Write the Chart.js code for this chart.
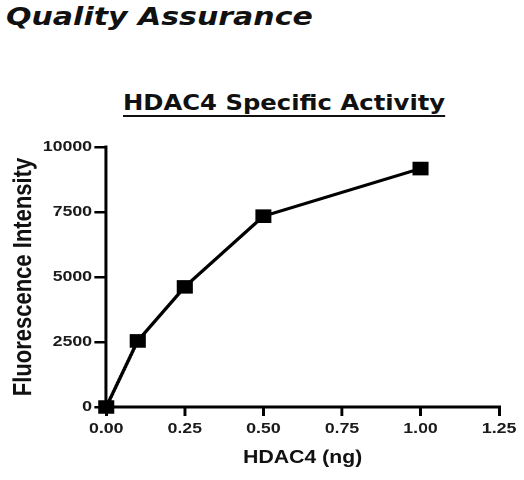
<!DOCTYPE html>
<html>
<head>
<meta charset="utf-8">
<script src="https://cdn.jsdelivr.net/npm/chart.js@4"></script>
<style>
    html, body { margin: 0; padding: 0; background: #fff; }
    body { width: 524px; height: 480px; position: relative; overflow: hidden; }
    .page-title {
        position: absolute; left: 6px; top: 4px;
        font: italic bold 25px/1 "DejaVu Sans", Verdana, sans-serif;
        color: #111; white-space: nowrap;
        transform: scaleX(1.2); transform-origin: 0 0;
    }
    .chart-title {
        position: absolute; left: 123px; top: 93px;
        font: bold 20.5px/1 "DejaVu Sans", Verdana, sans-serif;
        color: #111; white-space: nowrap;
        text-decoration: underline; text-decoration-thickness: 2px; text-underline-offset: 5px;
        transform: scaleX(1.185); transform-origin: 0 0;
    }
    #wrap {
        position: absolute; left: 0; top: 0; width: 444px; height: 480px;
        transform: scaleX(1.18); transform-origin: 0 0;
    }
</style>
</head>
<body>
<div class="page-title">Quality Assurance</div>
<div class="chart-title">HDAC4 Specific Activity</div>
<div id="wrap"><canvas id="chart" width="444" height="480"></canvas></div>
<script>
// values
const doseNg = [0, 0.1, 0.25, 0.5, 1.0];
const fluorescence = [0, 2540, 4620, 7340, 9170];
const xTicks = [0, 0.25, 0.5, 0.75, 1.0, 1.25];
const yTicks = [0, 2500, 5000, 7500, 10000];

document.addEventListener('DOMContentLoaded', () => {
    const fontFamily = "'Liberation Sans', Arial, sans-serif";
    const ctx = document.getElementById('chart').getContext('2d');

    new Chart(ctx, {
        type: 'scatter',
        data: {
            datasets: [{
                label: 'HDAC4',
                data: doseNg.map((x, i) => ({ x: x, y: fluorescence[i] })),
                showLine: true,
                borderColor: '#000',
                backgroundColor: '#000',
                borderWidth: 3,
                pointStyle: 'rect',
                pointRadius: 7.5,
                pointHoverRadius: 7.5,
                tension: 0,
                clip: false
            }]
        },
        options: {
            responsive: false,
            devicePixelRatio: 2,
            animation: false,
            layout: { padding: { top: 147, right: 21, left: 0, bottom: 0 } },
            plugins: {
                legend: { display: false },
                tooltip: { enabled: false }
            },
            scales: {
                x: {
                    type: 'linear',
                    min: xTicks[0],
                    max: xTicks[xTicks.length - 1],
                    afterFit: (scale) => { scale.height = 73; },
                    afterBuildTicks: (scale) => { scale.ticks = xTicks.map(v => ({ value: v })); },
                    border: { display: true, color: '#000', width: 3 },
                    grid: { drawOnChartArea: false, drawTicks: true, tickLength: 9, color: '#000', lineWidth: 2.5 },
                    ticks: {
                        color: '#1a1a1a',
                        padding: 4,
                        font: { family: fontFamily, size: 15, weight: 'bold' },
                        callback: (v) => Number(v).toFixed(2)
                    },
                    title: {
                        display: true,
                        text: 'HDAC4 (ng)',
                        color: '#111',
                        padding: { top: 0, bottom: 11 },
                        font: { family: fontFamily, size: 18, weight: 'bold' }
                    }
                },
                y: {
                    min: yTicks[0],
                    max: yTicks[yTicks.length - 1],
                    afterFit: (scale) => { scale.width = 90; },
                    afterBuildTicks: (scale) => { scale.ticks = yTicks.map(v => ({ value: v })); },
                    border: { display: true, color: '#000', width: 2.6 },
                    grid: { drawOnChartArea: false, drawTicks: true, tickLength: 10, color: '#000', lineWidth: 2.5 },
                    ticks: {
                        color: '#1a1a1a',
                        padding: 2,
                        font: { family: fontFamily, size: 15, weight: 'bold' },
                        callback: (v) => String(v)
                    },
                    title: {
                        display: true,
                        text: 'Fluorescence Intensity',
                        color: '#111',
                        padding: { top: 7, bottom: 0 },
                        font: { family: fontFamily, size: 22, weight: 'bold' }
                    }
                }
            }
        }
    });
});
</script>
</body>
</html>
